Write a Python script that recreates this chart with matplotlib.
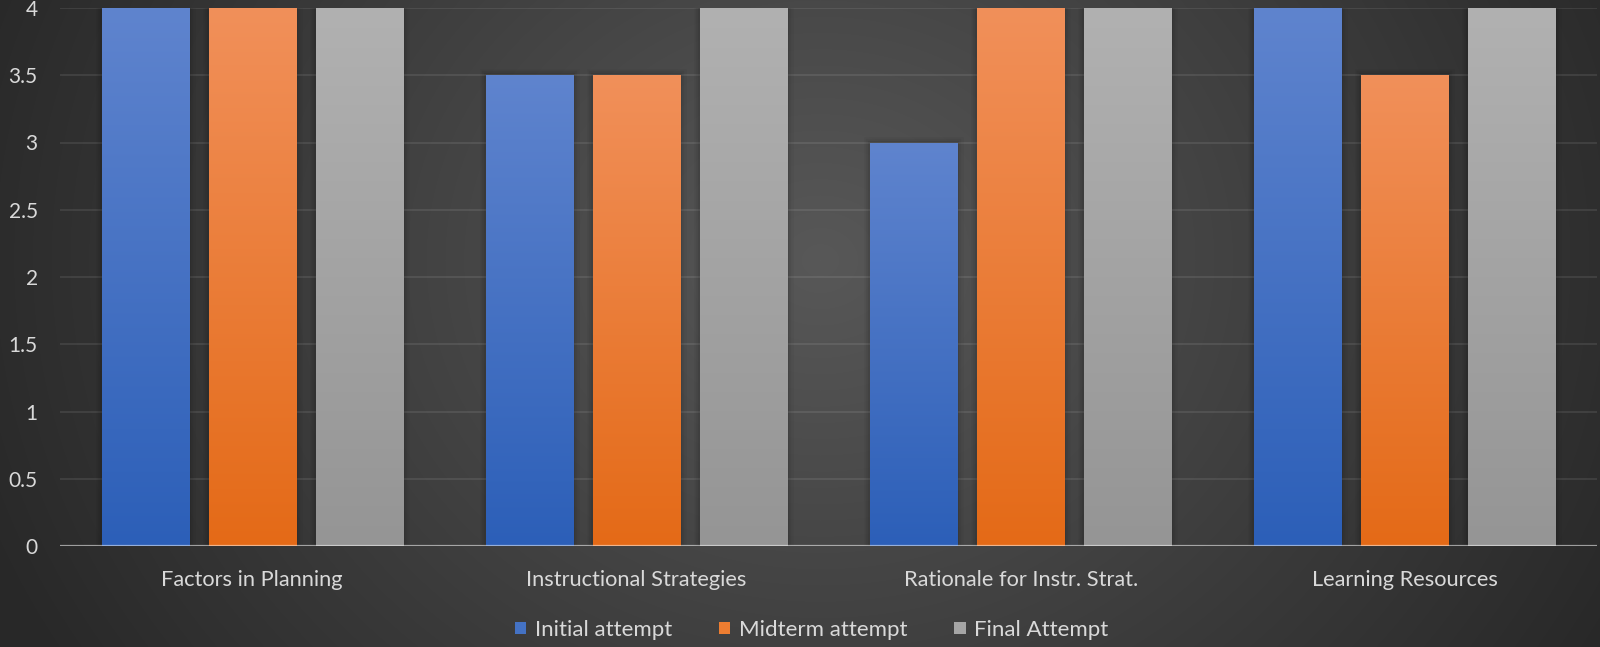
import numpy as np
import matplotlib
matplotlib.use("Agg")
import matplotlib.pyplot as plt
from matplotlib import patheffects as pe
from matplotlib.patches import Patch
from matplotlib.colors import LinearSegmentedColormap

# ---- data ----
categories = ["Factors in Planning", "Instructional Strategies",
              "Rationale for Instr. Strat.", "Learning Resources"]
series_names = ["Initial attempt", "Midterm attempt", "Final Attempt"]
initial_attempt = [4, 3.5, 3, 4]
midterm_attempt = [4, 3.5, 4, 3.5]
final_attempt = [4, 4, 4, 4]
y_ticks = [0, 0.5, 1, 1.5, 2, 2.5, 3, 3.5, 4]

# ---- style ----
plt.rcParams['font.family'] = ['Lato', 'DejaVu Sans']
TEXT = '#d9d9d9'
# (top, bottom, legend) colours for each series
palettes = [('#5f84ce', '#2c5fb8', '#4472c4'),
            ('#f1905a', '#e46a17', '#ed7d31'),
            ('#b1b1b1', '#959595', '#a5a5a5')]

W, H = 1600, 647
fig = plt.figure(figsize=(W / 100, H / 100), dpi=100)

# radial background
bg = fig.add_axes([0, 0, 1, 1], zorder=-10)
bg.axis('off')
yy, xx = np.mgrid[0:H, 0:W]
d = np.sqrt(((xx - 820) / 900.0) ** 2 + ((yy - 260) / 780.0) ** 2)
d = np.clip(d, 0, 1)[..., None]
inner = np.array([0x58, 0x58, 0x58]) / 255.0
outer = np.array([0x28, 0x28, 0x28]) / 255.0
bg.imshow(inner + (outer - inner) * d, extent=[0, 1, 0, 1], aspect='auto')
bg.set_xlim(0, 1)
bg.set_ylim(0, 1)

ax = fig.add_axes([60 / W, 101 / H, 1537 / W, 538 / H])
ax.set_facecolor('none')

x = np.arange(len(categories))
width = 0.2266
step = 0.2786
shadow = [pe.Stroke(linewidth=9, foreground='black', alpha=0.035),
          pe.Stroke(linewidth=6, foreground='black', alpha=0.05),
          pe.Stroke(linewidth=3, foreground='black', alpha=0.07),
          pe.Normal()]

for i, (vals, (top, bot, _)) in enumerate(zip(
        [initial_attempt, midterm_attempt, final_attempt], palettes)):
    bars = ax.bar(x + (i - 1) * step, vals, width, color=top, zorder=3,
                  linewidth=0, path_effects=shadow)
    cmap = LinearSegmentedColormap.from_list(f'g{i}', [bot, top])
    grad = np.linspace(1, 0, 256)[:, None]
    for r in bars:
        x0, y0 = r.get_x(), r.get_y()
        im = ax.imshow(grad, cmap=cmap, aspect='auto', zorder=3.5,
                       extent=[x0, x0 + r.get_width(), y0, y0 + r.get_height()])
        im.set_clip_path(r)

ax.set_xlim(-0.5, len(categories) - 0.5)
ax.set_ylim(0, 4)

ax.set_yticks(y_ticks)
ax.set_yticklabels([f'{v:g}' for v in y_ticks])
ax.set_xticks(x)
ax.set_xticklabels(categories)
ax.tick_params(axis='y', length=0, pad=16, labelsize=15, labelcolor=TEXT)
ax.tick_params(axis='x', length=0, pad=17, labelsize=15.7, labelcolor=TEXT)
for s in ax.spines.values():
    s.set_visible(False)
ax.yaxis.grid(True, color='white', alpha=0.1, linewidth=1.2)
ax.set_axisbelow(True)
ax.axhline(0, color='white', alpha=0.5, linewidth=1.6, zorder=6)

handles = [Patch(facecolor=p[2], edgecolor='none') for p in palettes]
fig.legend(handles, series_names, loc='center',
           bbox_to_anchor=(812 / W, 1 - 630 / H), ncol=3, frameon=False,
           fontsize=16, labelcolor=TEXT, handlelength=0.5, handleheight=0.5,
           handletextpad=0.4, columnspacing=2.1)

fig.savefig('out.png', dpi=100)
